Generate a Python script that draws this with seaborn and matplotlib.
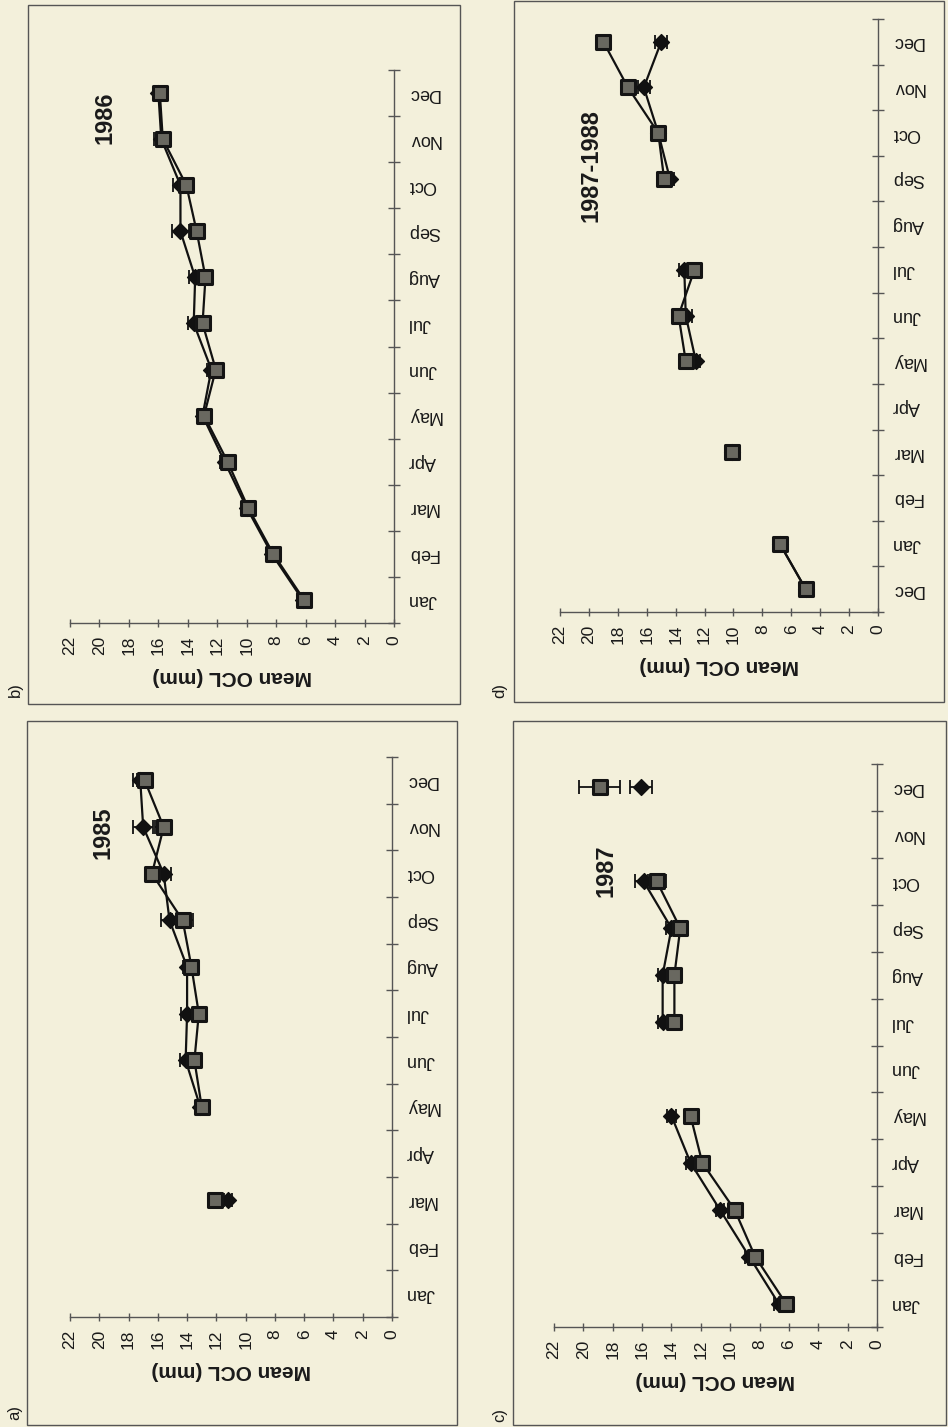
import numpy as np
import pandas as pd
import matplotlib
matplotlib.use('Agg')
import matplotlib.pyplot as plt
from matplotlib.patches import Rectangle
import seaborn as sns

nan = np.nan

# meses de cada panel
meses = ['Jan', 'Feb', 'Mar', 'Apr', 'May', 'Jun', 'Jul', 'Aug', 'Sep', 'Oct', 'Nov', 'Dec']
meses_8788 = ['Dec'] + meses

# valores medios (mm): serie rombo y serie cuadrado
rombo_1985 = [nan, nan, 11.2, nan, 13.1, 14.1, 14.0, 14.0, 15.2, 15.6, 17.0, 17.2]
cuadro_1985 = [nan, nan, 12.1, nan, 13.0, 13.5, 13.2, 13.7, 14.3, 16.4, 15.6, 16.9]
err_rombo_1985 = [nan, nan, 0.3, nan, 0.3, 0.4, 0.4, 0.3, 0.6, 0.5, 0.7, 0.5]
err_cuadro_1985 = [nan, nan, 0.2, nan, 0.3, 0.3, 0.4, 0.3, 0.7, 0.5, 0.6, 0.5]

rombo_1986 = [6.2, 8.3, 10.0, 11.5, 13.0, 12.4, 13.6, 13.5, 14.5, 14.5, 15.8, 16.0]
cuadro_1986 = [6.1, 8.2, 9.9, 11.3, 12.9, 12.1, 13.0, 12.8, 13.4, 14.1, 15.7, 15.9]
err_rombo_1986 = [0.2, 0.2, 0.2, 0.3, 0.3, 0.3, 0.4, 0.4, 0.6, 0.5, 0.5, 0.3]
err_cuadro_1986 = [0.2, 0.2, 0.2, 0.3, 0.3, 0.3, 0.3, 0.3, 0.4, 0.4, 0.4, 0.3]

rombo_1987 = [6.7, 8.7, 10.7, 12.7, 14.0, nan, 14.6, 14.6, 14.0, 15.9, nan, 16.1]
cuadro_1987 = [6.2, 8.3, 9.7, 11.9, 12.7, nan, 13.8, 13.8, 13.4, 15.0, nan, 18.9]
err_rombo_1987 = [0.3, 0.3, 0.3, 0.3, 0.3, nan, 0.3, 0.3, 0.4, 0.6, nan, 0.75]
err_cuadro_1987 = [0.3, 0.3, 0.3, 0.3, 0.3, nan, 0.3, 0.3, 0.3, 0.6, nan, 1.4]

rombo_8788 = [5.0, 6.8, nan, 10.1, nan, 12.6, 13.3, 13.4, nan, 14.4, 15.2, 16.2, 15.0]
cuadro_8788 = [5.0, 6.8, nan, 10.1, nan, 13.3, 13.8, 12.7, nan, 14.8, 15.2, 17.3, 19.0]
err_rombo_8788 = [0.2, 0.2, nan, 0.2, nan, 0.3, 0.4, 0.4, nan, 0.3, 0.3, 0.4, 0.4]
err_cuadro_8788 = [0.2, 0.2, nan, 0.2, nan, 0.3, 0.3, 0.3, nan, 0.3, 0.3, 0.3, 0.3]

ticks_valor = list(range(0, 23, 2))

fondo = '#f3f0db'
gris = '#555555'
texto = '#1a1a1a'
W, H = 948, 1427

sns.set_theme(style='white')
plt.rcParams['font.family'] = ['Liberation Sans', 'DejaVu Sans']
plt.rcParams['text.color'] = texto

fig = plt.figure(figsize=(9.48, 14.27), dpi=100)
fig.patch.set_facecolor(fondo)


def segmentos(valores):
    # numero de tramo: cambia cada vez que hay un hueco (nan)
    seg, actual, previo = [], 0, True
    for v in valores:
        if np.isnan(v):
            previo = True
            seg.append(-1)
        else:
            if previo:
                actual += 1
            previo = False
            seg.append(actual)
    return seg


def panel(ejes_px, caja_px, nombres, rombo, cuadro, err_r, err_c, anio, anio_px, letra, letra_px):
    x0, y0, x1, y1 = ejes_px
    ax = fig.add_axes([x0 / W, 1 - y1 / H, (x1 - x0) / W, (y1 - y0) / H])
    ax.patch.set_alpha(0)
    pos = np.arange(len(nombres))

    df = pd.concat([
        pd.DataFrame({'valor': rombo, 'pos': pos, 'serie': 'r', 'seg': segmentos(rombo)}),
        pd.DataFrame({'valor': cuadro, 'pos': pos, 'serie': 'c', 'seg': segmentos(cuadro)}),
    ]).dropna()

    sns.lineplot(data=df, x='valor', y='pos', hue='serie', units='seg', estimator=None,
                 orient='y', palette={'r': '#111111', 'c': '#111111'}, linewidth=1.6,
                 legend=False, ax=ax, zorder=2)

    ax.errorbar(rombo, pos, xerr=err_r, fmt='none', ecolor='#111111', elinewidth=1.3,
                capsize=5, capthick=1.3, zorder=3)
    ax.errorbar(cuadro, pos, xerr=err_c, fmt='none', ecolor='#111111', elinewidth=1.3,
                capsize=5, capthick=1.3, zorder=3)

    dr = df[df['serie'] == 'r']
    dc = df[df['serie'] == 'c']
    sns.scatterplot(data=dr, x='valor', y='pos', marker='D', s=65, color='#111111',
                    edgecolor='#111111', linewidth=1, ax=ax, zorder=4, legend=False)
    sns.scatterplot(data=dc, x='valor', y='pos', marker='s', s=110, color='#696860',
                    edgecolor='#141414', linewidth=2.2, ax=ax, zorder=5, legend=False)

    ax.set_xlim(22, 0)
    ax.set_ylim(-0.5, len(nombres) - 0.5)
    ax.set_xticks(ticks_valor)
    ax.set_xticklabels([str(t) for t in ticks_valor], rotation=90)
    ax.set_yticks(pos)
    ax.set_yticklabels(nombres, rotation=180, va='center')
    ax.set_yticks(np.arange(-0.5, len(nombres)), minor=True)
    ax.yaxis.tick_right()
    ax.tick_params(axis='y', which='major', length=0, pad=10, labelsize=13, labelcolor=texto)
    ax.tick_params(axis='y', which='minor', length=8, width=1, direction='inout',
                   right=True, left=False, color=gris)
    ax.tick_params(axis='x', which='major', length=6, width=1, direction='inout',
                   pad=6, labelsize=12.5, bottom=True, color=gris, labelcolor=texto)
    ax.set_ylabel('')
    ax.set_xlabel('Mean OCL (mm)', rotation=180, fontweight='bold', fontsize=15,
                  labelpad=9, color=texto)
    for lado in ['top', 'left']:
        ax.spines[lado].set_visible(False)
    for lado in ['right', 'bottom']:
        ax.spines[lado].set_color(gris)
        ax.spines[lado].set_linewidth(1)

    bx0, by0, bx1, by1 = caja_px
    fig.add_artist(Rectangle((bx0 / W, 1 - by1 / H), (bx1 - bx0) / W, (by1 - by0) / H,
                             transform=fig.transFigure, fill=False, ec=gris, lw=1))
    fig.text(anio_px[0] / W, 1 - anio_px[1] / H, anio, rotation=90, ha='center', va='center',
             fontsize=17, fontweight='bold', color=texto)
    fig.text(letra_px[0] / W, 1 - letra_px[1] / H, letra, rotation=90, ha='center', va='center',
             fontsize=12, color=texto)
    return ax


panel((70, 70, 394, 623), (28, 5, 460, 704), meses, rombo_1986, cuadro_1986,
      err_rombo_1986, err_cuadro_1986, '1986', (105, 118), 'b)', (15, 690))
panel((560, 19, 878, 612), (514, 1, 944, 702), meses_8788, rombo_8788, cuadro_8788,
      err_rombo_8788, err_cuadro_8788, '1987-1988', (591, 166), 'd)', (500, 690))
panel((70, 757, 392, 1317), (27, 721, 457, 1425), meses, rombo_1985, cuadro_1985,
      err_rombo_1985, err_cuadro_1985, '1985', (103, 833), 'a)', (15, 1413))
panel((554, 764, 877, 1327), (513, 721, 946, 1425), meses, rombo_1987, cuadro_1987,
      err_rombo_1987, err_cuadro_1987, '1987', (606, 871), 'c)', (500, 1415))

fig.savefig('out.png', dpi=100, facecolor=fondo)
